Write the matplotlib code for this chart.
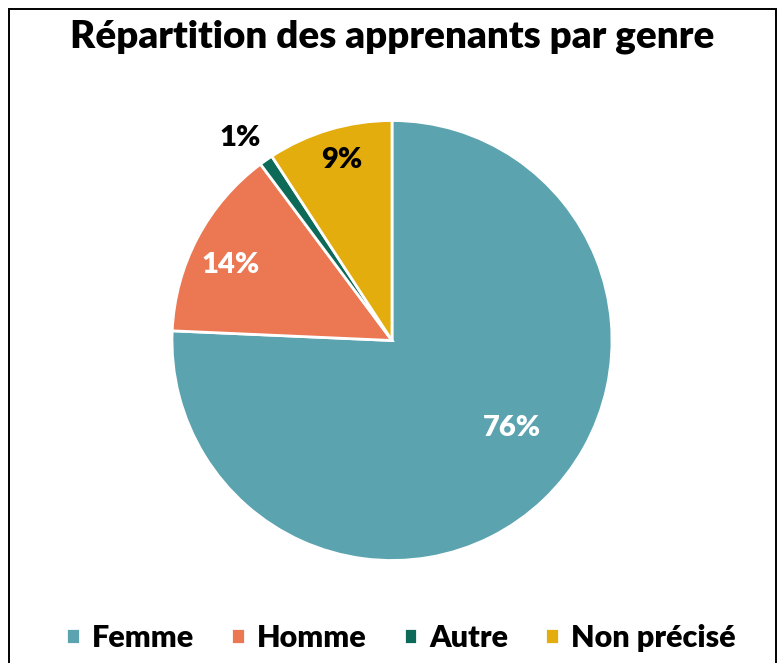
import numpy as np
import matplotlib
matplotlib.use("Agg")
import matplotlib.pyplot as plt
from matplotlib.patches import Rectangle

plt.rcParams['font.family'] = ['Lato', 'DejaVu Sans']

# données (en %)
labels = ["Femme", "Homme", "Autre", "Non précisé"]
values = [75.7, 14.1, 1.0, 9.2]
colors = ["#5BA3AE", "#EB7753", "#0E6A58", "#E3AD0E"]
pct_colors = ["white", "white", "black", "black"]
# distance des étiquettes au centre (en rayons)
label_r = [0.675, 0.81, 1.15, 0.85]
label_shift = [10, 3, 2, -1]

W, H = 778, 663
fig = plt.figure(figsize=(W / 100, H / 100), dpi=100)

# cadre
fig.patches.append(Rectangle((9 / W, -0.05), (776 - 9) / W, (H - 9) / H + 0.05,
                             transform=fig.transFigure, fill=False,
                             edgecolor="black", linewidth=1.4))

cx, cy, rad = 392, H - 340.5, 220
ax = fig.add_axes([(cx - rad) / W, (cy - rad) / H, 2 * rad / W, 2 * rad / H])

wedges, _ = ax.pie(values, colors=colors, startangle=90, counterclock=False,
                   radius=1, wedgeprops=dict(edgecolor="white", linewidth=2))
ax.set_xlim(-1, 1)
ax.set_ylim(-1, 1)
ax.set_aspect("equal")
ax.axis("off")

for w, v, c, r, s in zip(wedges, values, pct_colors, label_r, label_shift):
    a = np.deg2rad((w.theta1 + w.theta2) / 2 + s)
    ax.text(r * np.cos(a), r * np.sin(a), "%d%%" % round(v), ha="center", va="center",
            color=c, fontsize=21, fontweight="heavy", clip_on=False)

fig.text(392 / W, 1 - 37 / H, "Répartition des apprenants par genre", ha="center", va="center",
         fontsize=27.7, fontweight="heavy")

fig.legend(wedges, labels, loc="center", bbox_to_anchor=(401 / W, 1 - 638 / H), ncol=4,
           frameon=False, prop=dict(size=22, weight="heavy"), handlelength=0.45, handleheight=0.45,
           handletextpad=0.4, columnspacing=1.2)

fig.savefig("out.png", dpi=100)
